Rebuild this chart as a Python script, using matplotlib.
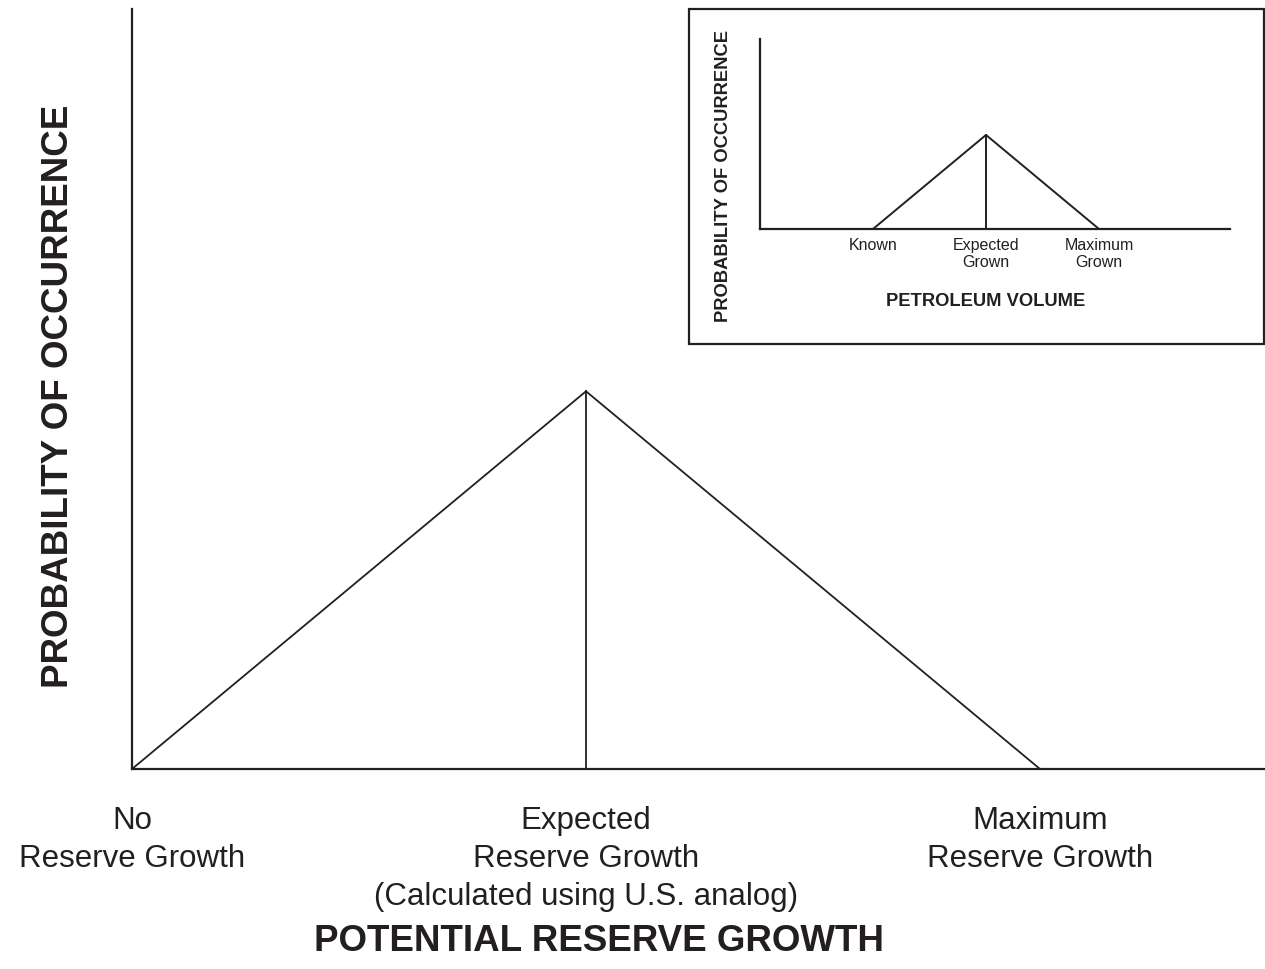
import matplotlib.pyplot as plt
from matplotlib.patches import Rectangle

plt.rcParams['font.family'] = ['Liberation Sans', 'DejaVu Sans']
ink = '#231f20'
W, H = 1265, 970

# main diagram: triangular distribution of potential reserve growth
main_x = [0, 1, 2]
main_y = [0, 0.497, 0]
main_ticks = ['No\nReserve Growth',
              'Expected\nReserve Growth\n(Calculated using U.S. analog)',
              'Maximum\nReserve Growth']

# inset: petroleum volume
inset_x = [1, 2, 3]
inset_y = [0, 0.495, 0]
inset_ticks = ['Known', 'Expected\nGrown', 'Maximum\nGrown']

fig = plt.figure(figsize=(12.65, 9.7), dpi=100)

ax = fig.add_axes([132 / W, 200 / H, 1133 / W, 760 / H])
ax.plot(main_x, main_y, color=ink, lw=1.3)
ax.plot([main_x[1], main_x[1]], [0, main_y[1]], color=ink, lw=1.3)
ax.set_xlim(0, 1133 / 454)
ax.set_ylim(0, 1)
for s in ['top', 'right']:
    ax.spines[s].set_visible(False)
for s in ['left', 'bottom']:
    ax.spines[s].set_color(ink)
    ax.spines[s].set_linewidth(1.6)
ax.set_yticks([])
ax.set_xticks([0, 1, 2])
ax.set_xticklabels(main_ticks, fontsize=22.5, color=ink, linespacing=1.35)
ax.tick_params(axis='x', length=0, pad=26)

fig.text(599 / W, 1 - 942 / H, 'POTENTIAL RESERVE GROWTH', fontsize=26.5,
         fontweight='bold', color=ink, ha='center', va='center')
fig.text(59 / W, 1 - 396 / H, 'PROBABILITY OF OCCURRENCE', fontsize=26.5,
         fontweight='bold', color=ink, ha='center', va='center', rotation=90)

# frame around inset
fig.add_artist(Rectangle((689 / W, 625 / H), 575 / W, 335 / H,
                         transform=fig.transFigure, fill=False,
                         edgecolor=ink, lw=1.6))

ins = fig.add_axes([760 / W, 740 / H, 470 / W, 190 / H])
ins.patch.set_alpha(0)
ins.plot(inset_x, inset_y, color=ink, lw=1.4)
ins.plot([inset_x[1], inset_x[1]], [0, inset_y[1]], color=ink, lw=1.4)
ins.set_xlim(0, 470 / 113)
ins.set_ylim(0, 1)
for s in ['top', 'right']:
    ins.spines[s].set_visible(False)
for s in ['left', 'bottom']:
    ins.spines[s].set_color(ink)
    ins.spines[s].set_linewidth(1.6)
ins.set_yticks([])
ins.set_xticks([1, 2, 3])
ins.set_xticklabels(inset_ticks, fontsize=11.5, color=ink, linespacing=1.1)
ins.tick_params(axis='x', length=0, pad=6)

fig.text(986 / W, 1 - 302 / H, 'PETROLEUM VOLUME', fontsize=13.2,
         fontweight='bold', color=ink, ha='center', va='center')
fig.text(724 / W, 1 - 176 / H, 'PROBABILITY OF OCCURRENCE', fontsize=13.2,
         fontweight='bold', color=ink, ha='center', va='center', rotation=90)

fig.savefig('out.png', dpi=100)
